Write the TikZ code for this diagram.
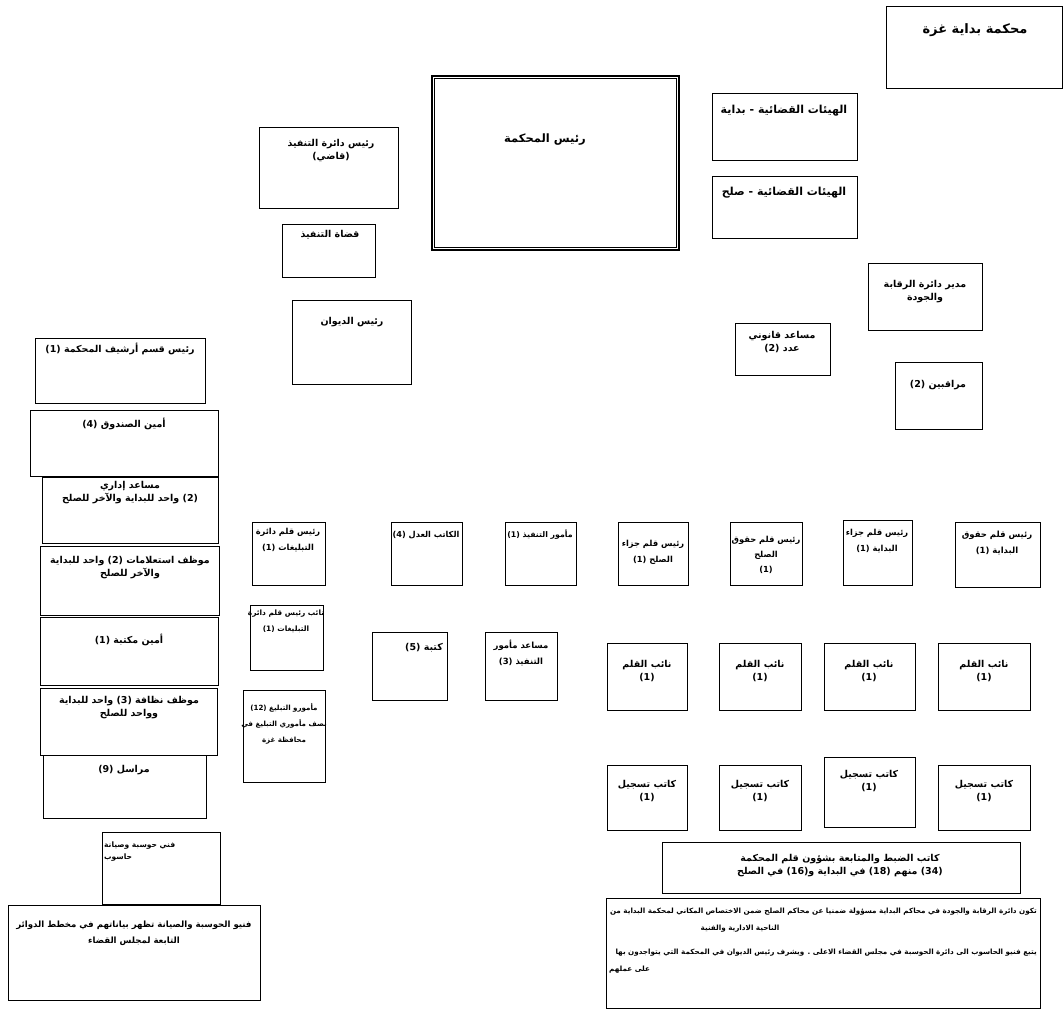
\documentclass[tikz,border=0pt]{standalone}
\usepackage{fontspec}
\usetikzlibrary{fit}
\TeXXeTstate=1
\newfontfamily\arf[Script=Arabic]{DejaVu Sans}
\newcommand\R[1]{\beginR #1\endR}
\newcommand\fs[1]{\fontsize{#1}{#1}\selectfont}
\tikzset{
 box/.style={draw,line width=0.9pt,inner sep=0pt},
 lbl/.style={font=\arf\bfseries\fontsize{9.5}{13}\selectfont,align=center,inner sep=0pt},
 lblw/.style={font=\arf\bfseries\fontsize{7.5}{12}\selectfont,align=left,inner sep=0pt,anchor=west},
 notetxt/.style={font=\arf\bfseries\fontsize{7.2}{10}\selectfont,inner sep=0pt}
}
% [opts]{name}{x1}{y1}{x2}{y2}{tx}{ty}{text}
\newcommand\bx[9][]{%
 \coordinate (#2a) at (#3,#4); \coordinate (#2b) at (#5,#6);
 \node[box,fit=(#2a)(#2b),#1] (#2) {};
 \node[lbl] (#2t) at (#7,#8) {#9};}
\newcommand\bxe[6][]{%
 \coordinate (#2a) at (#3,#4); \coordinate (#2b) at (#5,#6);
 \node[box,fit=(#2a)(#2b),#1] (#2) {};}
\begin{document}
\begin{tikzpicture}[x=1pt,y=-1pt]
\useasboundingbox (0,0) rectangle (1063,1015);
\fill[white] (0,0) rectangle (1063,1015);
% top
\bx{court}{886}{6}{1062}{88}{975}{30}{\fs{13}\R{محكمة بداية غزة}}
\bx[line width=2pt]{head}{432}{76}{679}{250}{545}{140}{\fs{11.5}\R{رئيس المحكمة}}
\draw[line width=0.6pt] ([shift={(3.5pt,-3.5pt)}]head.north west) rectangle ([shift={(-3.5pt,3.5pt)}]head.south east);
\bx{exhead}{259}{127}{398}{208}{331}{151}{\R{رئيس دائرة التنفيذ}\\\R{(قاضي)}}
\bx{exjud}{282}{224}{375}{277}{330}{235}{\R{قضاة التنفيذ}}
\bx{jb}{712}{93}{857}{160}{784}{111}{\fs{11}\R{الهيئات القضائية - بداية}}
\bx{js}{712}{176}{857}{238}{784}{193}{\fs{11}\R{الهيئات القضائية - صلح}}
\bx{diwan}{292}{300}{411}{384}{352}{322}{\R{رئيس الديوان}}
\bx{qdir}{868}{263}{982}{330}{925}{292}{\R{مدير دائرة الرقابة}\\\R{والجودة}}
\bx{legal}{735}{323}{830}{375}{782}{342}{\R{مساعد قانوني}\\\R{عدد (2)}}
\bx{mon}{895}{362}{982}{429}{938}{385}{\R{مراقبين (2)}}
% left column
\bx{arch}{35}{338}{205}{403}{120}{349}{\R{رئيس قسم أرشيف المحكمة (1)}}
\bx{cash}{30}{410}{218}{476}{124}{424}{\R{أمين الصندوق (4)}}
\bx{adm}{42}{477}{218}{543}{130}{493}{\R{مساعد إداري}\\\R{(2) واحد للبداية والآخر للصلح}}
\bx{info}{40}{546}{219}{615}{130}{568}{\R{موظف استعلامات (2) واحد للبداية}\\\R{والآخر للصلح}}
\bx{lib}{40}{617}{218}{685}{129}{640}{\R{أمين مكتبة (1)}}
\bx{clean}{40}{688}{217}{755}{129}{708}{\R{موظف نظافة (3) واحد للبداية}\\\R{وواحد للصلح}}
\bx{msg}{43}{755}{206}{818}{124}{770}{\R{مراسل (9)}}
\bxe{tech}{102}{832}{220}{904}
\node[lblw] (techt) at (104,852) {\R{فني حوسبة وصيانة}\\\R{حاسوب}};
\bx{fan}{8}{905}{260}{1000}{134}{933}{\fs{8.6}\R{فنيو الحوسبة والصيانة تظهر بياناتهم في مخطط الدوائر}\\[3pt]\fs{8.6}\R{التابعة لمجلس القضاء}}
% row 1
\bx{r1}{252}{522}{325}{585}{288}{540}{\fs{8.3}\R{رئيس قلم دائرة}\\[3pt]\fs{8.3}\R{التبليغات (1)}}
\bx{r2}{391}{522}{462}{585}{426}{535}{\fs{8.2}\R{الكاتب العدل (4)}}
\bx{r3}{505}{522}{576}{585}{540}{535}{\fs{7.8}\R{مأمور التنفيذ (1)}}
\bx{r4}{618}{522}{688}{585}{653}{552}{\fs{8.3}\R{رئيس قلم جزاء}\\[3pt]\fs{8.3}\R{الصلح (1)}}
\bx{r5}{730}{522}{802}{585}{766}{555}{\fs{8.3}\R{رئيس قلم حقوق}\\[2pt]\fs{8.3}\R{الصلح}\\[2pt]\fs{8.3}(1)}
\bx{r6}{843}{520}{912}{585}{877}{541}{\fs{8.3}\R{رئيس قلم جزاء}\\[3pt]\fs{8.3}\R{البداية (1)}}
\bx{r7}{955}{522}{1040}{587}{997}{543}{\fs{8.5}\R{رئيس قلم حقوق}\\[3pt]\fs{8.5}\R{البداية (1)}}
% second level
\bx{r1b}{250}{605}{323}{670}{286}{621}{\fs{7.4}\R{نائب رئيس قلم دائرة}\\[3pt]\fs{7.4}\R{التبليغات (1)}}
\bx{kat}{372}{632}{447}{700}{424}{648}{\R{كتبة (5)}}
\bx{mam}{485}{632}{557}{700}{521}{653}{\fs{8.5}\R{مساعد مأمور}\\[3pt]\fs{8.5}\R{التنفيذ (3)}}
\bx{n1}{607}{643}{687}{710}{647}{671}{\R{نائب القلم}\\(1)}
\bx{n2}{719}{643}{801}{710}{760}{671}{\R{نائب القلم}\\(1)}
\bx{n3}{824}{643}{915}{710}{869}{671}{\R{نائب القلم}\\(1)}
\bx{n4}{938}{643}{1030}{710}{984}{671}{\R{نائب القلم}\\(1)}
\bx{tab}{243}{690}{325}{782}{284}{724}{\fs{7.1}\R{مأمورو التبليغ (12)}\\[3pt]\fs{7.1}\R{نصف مأموري التبليغ في}\\[3pt]\fs{7.1}\R{محافظة غزة}}
% third level
\bx{k1}{607}{765}{687}{830}{647}{791}{\R{كاتب تسجيل}\\(1)}
\bx{k2}{719}{765}{801}{830}{760}{791}{\R{كاتب تسجيل}\\(1)}
\bx{k3}{824}{757}{915}{827}{869}{781}{\R{كاتب تسجيل}\\(1)}
\bx{k4}{938}{765}{1030}{830}{984}{791}{\R{كاتب تسجيل}\\(1)}
\bx{dabt}{662}{842}{1020}{893}{840}{866}{\R{كاتب الضبط والمتابعة بشؤون قلم المحكمة}\\\R{(34) منهم (18) في البداية و\kern0pt(16) في الصلح}}
% note
\bxe{note}{606}{898}{1040}{1008}
\node[notetxt,anchor=east] (n1l) at (1037,912) {\R{تكون دائرة الرقابة والجودة في محاكم البداية مسؤولة ضمنيا عن محاكم الصلح ضمن الاختصاص المكاني لمحكمة البداية من}};
\node[notetxt] (n2l) at (740,929) {\R{الناحية الادارية والفنية}};
\node[notetxt,anchor=east] (n3l) at (1037,953) {\R{يتبع فنيو الحاسوب الى دائرة الحوسبة في مجلس القضاء الاعلى . ويشرف رئيس الديوان في المحكمة التي يتواجدون بها}};
\node[notetxt,anchor=west] (n4l) at (609,970) {\R{على عملهم}};
\end{tikzpicture}
\end{document}
